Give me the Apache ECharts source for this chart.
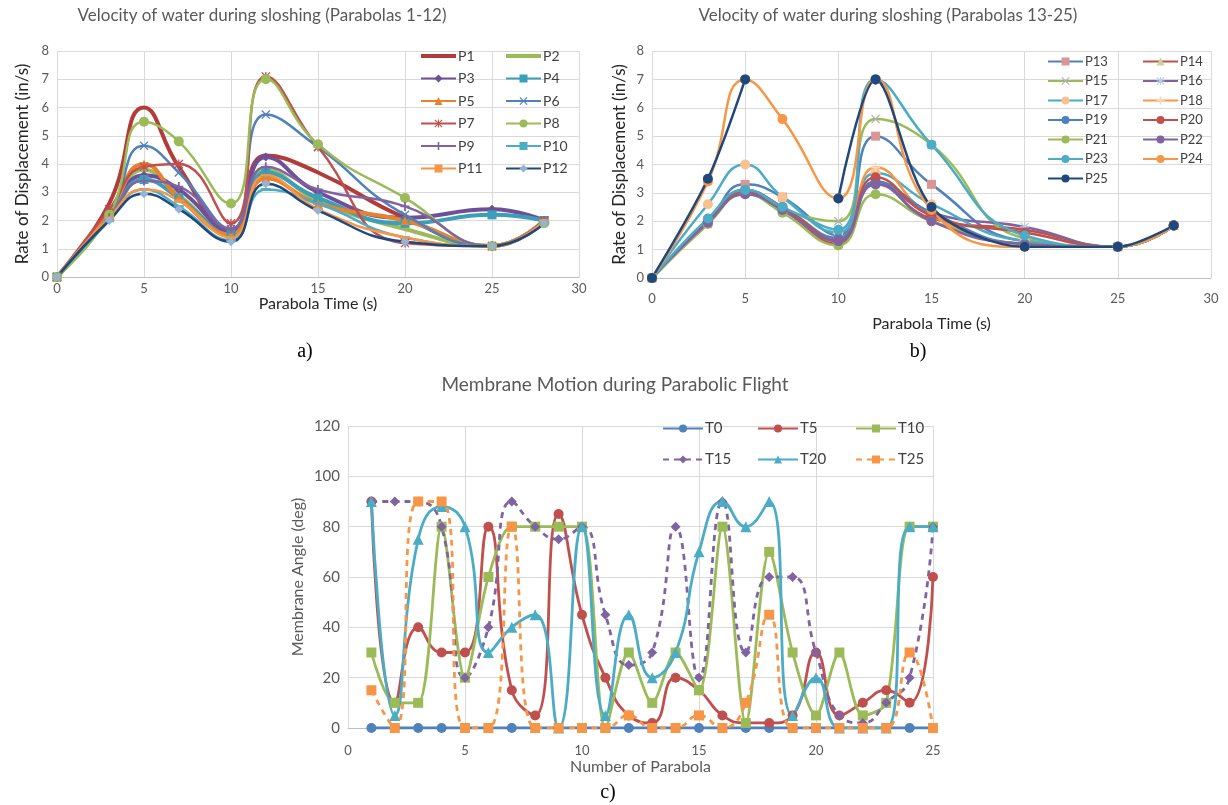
<!DOCTYPE html>
<html lang="en">
<head>
<meta charset="UTF-8">
<title>Sloshing velocity and membrane motion</title>
<script src="https://cdn.jsdelivr.net/npm/echarts@6/dist/echarts.min.js"></script>
<style>body{margin:0;background:#fff}#main{width:1228px;height:805px}</style>
</head>
<body>
<div id="main"></div>
<script>
// parabola time axis (s) shared by charts a and b
const timeSec = [0, 3, 5, 7, 10, 12, 15, 20, 25, 28];

// chart a: parabolas 1-12, rate of displacement (in/s)
const p1  = [0, 2.6, 6.0, 3.9, 1.6, 4.3, 3.7, 2.1, 1.1, 2.0];
const p2  = [0, 2.2, 3.8, 2.9, 1.5, 3.8, 2.7, 1.7, 1.1, 2.0];
const p3  = [0, 2.1, 3.6, 3.1, 1.6, 4.25, 3.0, 2.1, 2.4, 2.0];
const p4  = [0, 2.1, 3.45, 2.8, 1.5, 3.7, 2.8, 1.9, 2.2, 2.0];
const p5  = [0, 2.3, 4.0, 2.8, 1.5, 3.5, 2.6, 2.0, 1.1, 2.0];
const p6  = [0, 2.2, 4.65, 3.7, 1.7, 5.75, 4.6, 2.2, 1.1, 2.0];
const p7  = [0, 2.4, 3.9, 4.0, 1.9, 7.1, 4.6, 1.2, 1.1, 2.0];
const p8  = [0, 2.2, 5.5, 4.8, 2.6, 7.0, 4.7, 2.8, 1.1, 1.9];
const p9  = [0, 2.1, 3.4, 3.2, 1.7, 3.9, 3.1, 2.5, 1.1, 2.0];
const p10 = [0, 2.0, 3.1, 2.5, 1.3, 3.1, 2.6, 1.4, 1.1, 1.9];
const p11 = [0, 2.1, 3.1, 2.7, 1.4, 3.6, 2.4, 1.4, 1.1, 2.0];
const p12 = [0, 2.0, 2.95, 2.4, 1.25, 3.3, 2.35, 1.25, 1.1, 1.9];

// chart b: parabolas 13-25 (P25 has no reading at 7 s)
const p13 = [0, 2.0, 3.3, 2.85, 1.5, 5.0, 3.3, 1.3, 1.1, 1.85];
const p14 = [0, 1.95, 3.0, 2.4, 1.2, 3.4, 2.1, 1.7, 1.1, 1.85];
const p15 = [0, 1.9, 3.0, 2.4, 2.0, 5.6, 4.7, 1.4, 1.1, 1.85];
const p16 = [0, 1.95, 3.0, 2.5, 1.3, 3.3, 2.3, 1.8, 1.1, 1.85];
const p17 = [0, 2.6, 4.0, 2.85, 1.6, 3.7, 2.6, 1.3, 1.1, 1.85];
const p18 = [0, 2.0, 3.1, 2.5, 1.4, 3.9, 2.2, 1.2, 1.1, 1.85];
const p19 = [0, 2.0, 3.1, 2.5, 1.4, 3.4, 2.3, 1.2, 1.1, 1.85];
const p20 = [0, 2.0, 3.05, 2.5, 1.3, 3.55, 2.2, 1.6, 1.1, 1.85];
const p21 = [0, 1.9, 2.95, 2.3, 1.15, 2.95, 2.0, 1.2, 1.1, 1.85];
const p22 = [0, 1.95, 2.95, 2.4, 1.3, 3.3, 2.0, 1.2, 1.1, 1.85];
const p23 = [0, 2.1, 3.1, 2.5, 1.7, 7.0, 4.7, 1.5, 1.1, 1.85];
const p24 = [0, 3.4, 7.0, 5.6, 2.8, 7.0, 2.4, 1.1, 1.1, 1.85];
const p25 = [0, 3.5, 7.0, null, 2.8, 7.0, 2.5, 1.1, 1.1, 1.85];

// chart c: membrane angle (deg) per parabola number
const parabolaNo = [1,2,3,4,5,6,7,8,9,10,11,12,13,14,15,16,17,18,19,20,21,22,23,24,25];
const t0  = [0,0,0,0,0,0,0,0,0,0,0,0,0,0,0,0,0,0,0,0,0,0,0,0,0];
const t5  = [90,10,40,30,30,80,15,5,85,45,20,5,2,20,15,5,2,2,5,30,5,10,15,10,60];
const t10 = [30,10,10,80,20,60,80,80,80,80,0,30,10,30,15,80,2,70,30,5,30,5,10,80,80];
const t15 = [90,90,90,80,20,40,90,80,75,80,45,25,30,80,20,90,30,60,60,30,5,2,10,20,80];
const t20 = [90,5,75,88,80,30,40,45,0,80,5,45,20,30,70,90,80,90,5,20,0,0,0,80,80];
const t25 = [15,0,90,90,0,0,80,0,0,0,0,5,0,0,5,0,10,45,0,0,0,0,0,30,0];

const FONT = 'Lato, "Liberation Sans", sans-serif';
const GREY = '#595959';
const GRID = '#d9d9d9';

const PLUS = 'path://M4,0H6V4H10V6H6V10H4V6H0V4H4Z';
const CROSS = 'path://M1,0L5,4L9,0L10,1L6,5L10,9L9,10L5,6L1,10L0,9L4,5L0,1Z';
const STAR = 'path://M4.3,0H5.7V4.3H10V5.7H5.7V10H4.3V5.7H0V4.3H4.3Z M1,0L5,4L9,0L10,1L6,5L10,9L9,10L5,6L1,10L0,9L4,5L0,1Z';
const DASH = 'path://M0,0H10V2H0Z';
const BAR = 'path://M0,0H35V4H0Z';

const pairs = ys => timeSec.map((x, i) => [x, ys[i]]);

// name, values, line colour, marker, marker colour, line width
const specA = [
  ['P1', p1, '#b23c3a', 'none', null, 4],
  ['P2', p2, '#9bbb59', 'none', null, 4],
  ['P3', p3, '#6f4f97', 'diamond', null, 4],
  ['P4', p4, '#3a9fb8', 'rect', null, 4],
  ['P5', p5, '#e8822e', 'triangle', null, 4],
  ['P6', p6, '#4f81bd', CROSS, null, 2.5],
  ['P7', p7, '#c0504d', STAR, null, 2.5],
  ['P8', p8, '#9bbb59', 'circle', null, 2.5],
  ['P9', p9, '#8064a2', PLUS, null, 2.5],
  ['P10', p10, '#4bacc6', DASH, null, 2.5],
  ['P11', p11, '#f79646', DASH, null, 2.5],
  ['P12', p12, '#1f497d', 'diamond', '#95b3d7', 2.5]
];
const specB = [
  ['P13', p13, '#4f81bd', 'rect', '#d99694', 2.5],
  ['P14', p14, '#c0504d', 'triangle', '#c3d69b', 2.5],
  ['P15', p15, '#9bbb59', CROSS, '#b2b2b2', 2.5],
  ['P16', p16, '#8064a2', STAR, '#b7cde8', 2.5],
  ['P17', p17, '#4bacc6', 'circle', '#fac090', 2.5],
  ['P18', p18, '#f79646', PLUS, '#fcd5b5', 2.5],
  ['P19', p19, '#4f81bd', 'circle', null, 2.5],
  ['P20', p20, '#c0504d', 'circle', null, 2.5],
  ['P21', p21, '#9bbb59', 'circle', null, 2.5],
  ['P22', p22, '#8064a2', 'circle', null, 2.5],
  ['P23', p23, '#4bacc6', 'circle', null, 2.5],
  ['P24', p24, '#f79646', 'circle', null, 2.5],
  ['P25', p25, '#1f497d', 'circle', null, 2.5]
];
// name, values, colour, marker, dashed
const specC = [
  ['T0', t0, '#4f81bd', 'circle', false],
  ['T5', t5, '#c0504d', 'circle', false],
  ['T10', t10, '#9bbb59', 'rect', false],
  ['T15', t15, '#8064a2', 'diamond', true],
  ['T20', t20, '#4bacc6', 'triangle', false],
  ['T25', t25, '#f79646', 'rect', true]
];

function velSeries(s, idx) {
  const [name, ys, color, sym, mcol, w] = s;
  const size = sym === DASH ? [10, 2.5] : (sym === 'circle' ? 10 : 9);
  return {
    name, type: 'line', xAxisIndex: idx, yAxisIndex: idx,
    data: pairs(ys), smooth: name === 'P25' ? 0.3 : 0.5,
    symbol: sym, symbolSize: size,
    lineStyle: {color, width: w},
    itemStyle: {color: mcol || color}
  };
}

const series = [];
specA.forEach(s => series.push(velSeries(s, 0)));
specB.forEach(s => series.push(velSeries(s, 1)));
specC.forEach(([name, ys, color, sym, dashed]) => {
  series.push({
    name, type: 'line', xAxisIndex: 2, yAxisIndex: 2,
    data: parabolaNo.map((n, i) => [n, ys[i]]),
    smooth: name === 'T10' ? 0.3 : 0.5,
    symbol: sym, symbolSize: sym === 'triangle' ? 11 : 10,
    lineStyle: {color, width: 2.8, type: dashed ? [6, 5] : 'solid'},
    itemStyle: {color}
  });
});

function xAx(idx, max, interval, name, gap, margin, nameCol, nameSize) {
  return {
    type: 'value', gridIndex: idx, min: 0, max, interval,
    name, nameLocation: 'middle', nameGap: gap,
    nameTextStyle: {color: nameCol, fontSize: nameSize, fontFamily: FONT},
    axisLine: {lineStyle: {color: '#bfbfbf'}}, axisTick: {show: false},
    axisLabel: {color: GREY, fontSize: 13, fontFamily: FONT, margin},
    splitLine: {lineStyle: {color: GRID}}
  };
}
function yAx(idx, max, interval, name, gap, nameCol, nameSize, labSize) {
  return {
    type: 'value', gridIndex: idx, min: 0, max, interval,
    name, nameLocation: 'middle', nameGap: gap,
    nameTextStyle: {color: nameCol, fontSize: nameSize, fontFamily: FONT},
    axisLine: {show: false}, axisTick: {show: false},
    axisLabel: {color: GREY, fontSize: labSize, fontFamily: FONT, margin: 8},
    splitLine: {lineStyle: {color: GRID}}
  };
}

// legend entries for series drawn without markers get a plain bar icon
const noMarker = ['P1', 'P2'];
function legendCol(names, left, top, gap, size, w) {
  return {
    data: names.map(n => noMarker.includes(n) ? {name: n, icon: BAR} : n),
    orient: 'vertical', left, top, itemGap: gap,
    itemWidth: w, itemHeight: 10, padding: 0, symbolKeepAspect: true,
    textStyle: {color: '#404040', fontSize: size, fontFamily: FONT, padding: [0, 0, 0, -3]}
  };
}

function label(text, x, y, size, color, font) {
  return {type: 'text', x, y, style: {text, fill: color, font: size + 'px ' + font,
    textAlign: 'center', textVerticalAlign: 'middle'}};
}

const chart = echarts.init(document.getElementById('main'));
chart.setOption({
  animation: false,
  backgroundColor: '#fff',
  grid: [
    {left: 57, top: 51, width: 522, height: 226},
    {left: 652, top: 51, width: 559, height: 227},
    {left: 348, top: 426, width: 585, height: 302}
  ],
  xAxis: [
    xAx(0, 30, 5, 'Parabola Time (s)', 17, 5, '#262626', 16),
    xAx(1, 30, 5, 'Parabola Time (s)', 38, 14, '#262626', 16),
    xAx(2, 25, 5, 'Number of Parabola', 31, 16, GREY, 16)
  ],
  yAxis: [
    yAx(0, 8, 1, 'Rate of Displacement (in/s)', 26, '#262626', 17, 13),
    yAx(1, 8, 1, 'Rate of Displacement (in/s)', 24, '#262626', 17, 13),
    yAx(2, 120, 20, 'Membrane Angle (deg)', 42, GREY, 16, 15)
  ],
  legend: [
    legendCol(['P1','P3','P5','P7','P9','P11'], 420, 49, 8.5, 14, 35),
    legendCol(['P2','P4','P6','P8','P10','P12'], 505, 49, 8.5, 14, 35),
    legendCol(['P13','P15','P17','P19','P21','P23','P25'], 1047, 55, 6.5, 13, 35),
    legendCol(['P14','P16','P18','P20','P22','P24'], 1142, 55, 6.5, 13, 35),
    legendCol(['T0','T15'], 662, 421, 16, 15, 40),
    legendCol(['T5','T20'], 757, 421, 16, 15, 40),
    legendCol(['T10','T25'], 855, 421, 16, 15, 40)
  ],
  graphic: [
    label('Velocity of water during sloshing (Parabolas 1-12)', 262, 16, 17, GREY, FONT),
    label('Velocity of water during sloshing (Parabolas 13-25)', 888, 16, 17, GREY, FONT),
    label('Membrane Motion during Parabolic Flight', 615, 385, 19, GREY, FONT),
    label('a)', 305, 352, 20, '#000', '"Liberation Serif", serif'),
    label('b)', 918, 352, 20, '#000', '"Liberation Serif", serif'),
    label('c)', 608, 793, 20, '#000', '"Liberation Serif", serif')
  ],
  series
});
</script>
</body>
</html>
